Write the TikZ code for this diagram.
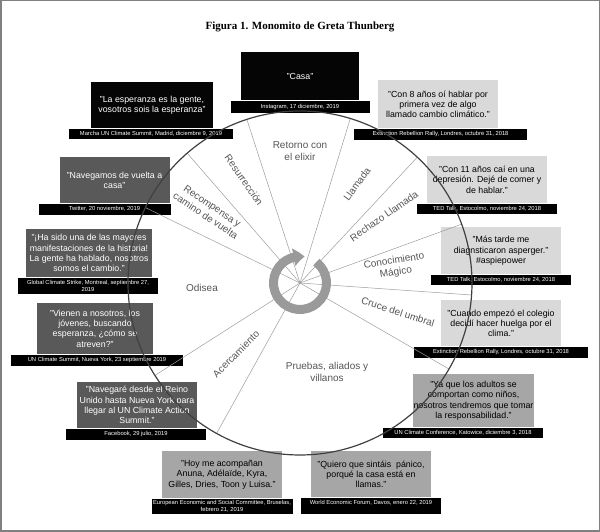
\documentclass[tikz,border=0pt]{standalone}
\usepackage{fontspec}
\setmainfont{Liberation Sans}
\newfontfamily\titlefont{Liberation Serif}
\usepackage{tikz}
\usetikzlibrary{arrows.meta, bending, positioning}
\definecolor{my_black}{HTML}{050505}
\definecolor{my_darkgray}{HTML}{595959}
\definecolor{my_midgray}{HTML}{A6A6A6}
\definecolor{my_lightgray}{HTML}{D9D9D9}
\definecolor{my_spoke}{HTML}{9C9C9C}
\definecolor{my_ring}{HTML}{9A9A9A}
\definecolor{my_circle}{HTML}{404040}
\definecolor{my_phase}{HTML}{555555}
\definecolor{my_frame}{HTML}{808080}

\begin{document}
\begin{tikzpicture}[
    x=1pt, y=1pt,
    quote/.style={anchor=north, align=center, inner sep=1pt, minimum height=46pt,
        font=\fontsize{8.8}{10.3}\selectfont},
    source/.style={below=0pt of #1, fill=black, text=white, align=center,
        inner sep=0pt, minimum height=11pt, font=\fontsize{5.8}{6.8}\selectfont},
    phase/.style={text=my_phase, align=center, font=\fontsize{10}{12}\selectfont},
    spoke/.style={my_spoke, line width=0.5pt},
    ring/.style={my_ring, line width=9pt, -{Triangle[bend, length=11pt, width=17pt]}}
]
\useasboundingbox (0,0) rectangle (600,532);

% ================================================================
% Rahmen und Titel
% ================================================================
\draw[my_frame, line width=1.5pt] (0.75,0.75) rectangle (599.25,531.25);
\node[font={\titlefont\bfseries\fontsize{11}{13}\selectfont}] (title) at (300,505)
    {Figura 1. Monomito de Greta Thunberg};

% ================================================================
% Zitate (oben, links)
% ================================================================
\node[quote, fill=my_black, text=white, minimum width=118pt, minimum height=48pt] (q_casa)
    at (300,480) {"Casa"};
\node[source=q_casa, minimum width=139pt, minimum height=12pt] (s_casa)
    {Instagram, 17 diciembre, 2019};

\node[quote, fill=my_black, text=white, minimum width=122pt] (q_esper)
    at (152,450) {"La esperanza es la gente,\\vosotros sois la esperanza"};
\node[source=q_esper, minimum width=164pt, minimum height=10pt, xshift=-1pt] (s_esper)
    {Marcha UN Climate Summit, Madrid, diciembre 9, 2019};

\node[quote, fill=my_darkgray, text=white, minimum width=110pt] (q_naveg)
    at (114.5,375) {"Navegamos de vuelta a\\casa"};
\node[source=q_naveg, minimum width=132pt, xshift=-10pt] (s_naveg)
    {Twitter, 20 noviembre, 2019};

\node[quote, fill=my_darkgray, text=white, minimum width=126pt, minimum height=48pt] (q_hasido)
    at (89,303) {"¡Ha sido una de las mayores\\manifestaciones de la historia!\\La gente ha hablado, nosotros\\somos el cambio."};
\node[source=q_hasido, minimum width=140pt, minimum height=16pt, xshift=-1pt] (s_hasido)
    {Global Climate Strike, Montreal, septiembre 27,\\2019};

\node[quote, fill=my_darkgray, text=white, minimum width=116pt, minimum height=51pt] (q_vienen)
    at (95,229) {"Vienen a nosotros, los\\jóvenes, buscando\\esperanza, ¿cómo se\\atreven?"};
\node[source=q_vienen, minimum width=172pt, xshift=2pt] (s_vienen)
    {UN Climate Summit, Nueva York, 23 septiembre 2019};

\node[quote, fill=my_darkgray, text=white, minimum width=120pt] (q_navegare)
    at (137,150) {"Navegaré desde el Reino\\Unido hasta Nueva York para\\llegar al UN Climate Action\\Summit."};
\node[source=q_navegare, minimum width=140pt, xshift=-1pt] (s_navegare)
    {Facebook, 29 julio, 2019};

% ================================================================
% Zitate (unten, rechts)
% ================================================================
\node[quote, fill=my_midgray, minimum width=120pt, minimum height=47pt] (q_hoy)
    at (222,81) {"Hoy me acompañan\\Anuna, Adélaïde, Kyra,\\Gilles, Dries, Toon y Luisa."};
\node[source=q_hoy, minimum width=141pt, minimum height=15pt] (s_hoy)
    {European Economic and Social Committee, Bruselas,\\febrero 21, 2019};

\node[quote, fill=my_midgray, minimum width=120pt] (q_quiero)
    at (371,81) {"Quiero que sintáis~ pánico,\\porqué la casa está en\\llamas."};
\node[source=q_quiero, minimum width=140pt, minimum height=16pt] (s_quiero)
    {World Economic Forum, Davos, enero 22, 2019\\\mbox{}};

\node[quote, fill=my_midgray, minimum width=119pt, minimum height=53pt] (q_yaque)
    at (473.5,158) {"Ya que los adultos se\\comportan como niños,\\nosotros tendremos que tomar\\la responsabilidad."};
\node[source=q_yaque, minimum width=160pt, minimum height=10pt, xshift=-10.5pt] (s_yaque)
    {UN Climate Conference, Katowice, diciembre 3, 2018};

\node[quote, fill=my_lightgray, minimum width=120pt] (q_cuando)
    at (501,232) {"Cuando empezó el colegio\\decidí hacer huelga por el\\clima."};
\node[source=q_cuando, minimum width=174pt] (s_cuando)
    {Extinction Rebellion Rally, Londres, octubre 31, 2018};

\node[quote, fill=my_lightgray, minimum width=120pt, minimum height=47pt] (q_mas)
    at (501,305) {"Más tarde me\\diagnsticaron asperger."\\\#aspiepower};
\node[source=q_mas, minimum width=140pt, minimum height=10pt] (s_mas)
    {TED Talk, Estocolmo, noviembre 24, 2018};

\node[quote, fill=my_lightgray, minimum width=120pt, minimum height=47pt] (q_con11)
    at (487,376) {"Con 11 años caí en una\\depresión. Dejé de comer y\\de hablar."};
\node[source=q_con11, minimum width=140pt, minimum height=10pt] (s_con11)
    {TED Talk, Estocolmo, noviembre 24, 2018};

\node[quote, fill=my_lightgray, minimum width=120pt, minimum height=48pt] (q_con8)
    at (438,452) {"Con 8 años oí hablar por\\primera vez de algo\\llamado cambio climático."};
\node[source=q_con8, minimum width=173pt, xshift=2.5pt] (s_con8)
    {Extinction Rebellion Rally, Londres, octubre 31, 2018};

% ================================================================
% Kreis mit Speichen
% ================================================================
\coordinate (ctr) at (300,249);

\foreach \a in {108, 73, 47, 20, -4, -30, -119, -147.5, 154, 131}
    \draw[spoke] (ctr) -- ++(\a:172);

\draw[my_circle, line width=1.2pt] (ctr) circle[radius=172];

% Kreispfeil in der Mitte
\draw[ring] ([shift={(52:26.5)}]ctr) arc[start angle=52, end angle=-280, radius=26.5];

% ================================================================
% Etappen
% ================================================================
\node[phase] (ph_retorno) at (300,381) {Retorno con\\el elixir};
\node[phase, rotate=-55] (ph_resurr) at (244,352) {Resurrección};
\node[phase, rotate=-34] (ph_recomp) at (209,321) {Recompensa y\\camino de vuelta};
\node[phase, rotate=54] (ph_llamada) at (357,348) {Llamada};
\node[phase, rotate=35] (ph_rechazo) at (384,316) {Rechazo Llamada};
\node[phase, rotate=9] (ph_conoc) at (395,265) {Conocimiento\\Mágico};
\node[phase, rotate=-18] (ph_cruce) at (398,220) {Cruce del umbral};
\node[phase] (ph_pruebas) at (327,160) {Pruebas, aliados y\\villanos};
\node[phase, rotate=45] (ph_acerc) at (236,178) {Acercamiento};
\node[phase] (ph_odisea) at (202,244) {Odisea};

\end{tikzpicture}
\end{document}
